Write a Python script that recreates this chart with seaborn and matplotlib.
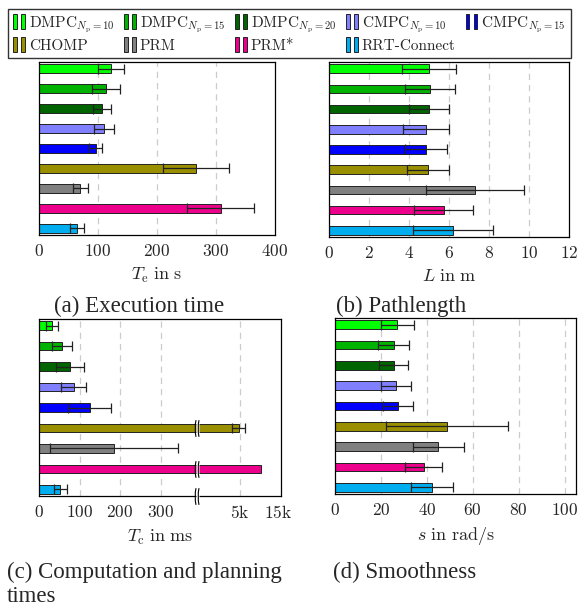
import numpy as np
import pandas as pd
import seaborn as sns
import matplotlib.pyplot as plt
from matplotlib.patches import Patch
from matplotlib.path import Path
from matplotlib.legend_handler import HandlerTuple

methods = ["DMPC10", "DMPC15", "DMPC20", "CMPC10", "CMPC15", "CHOMP", "PRM", "PRM*", "RRT-Connect"]
legend_labels = [r"DMPC$_{N_\mathrm{p}=10}$", r"DMPC$_{N_\mathrm{p}=15}$", r"DMPC$_{N_\mathrm{p}=20}$",
                 r"CMPC$_{N_\mathrm{p}=10}$", r"CMPC$_{N_\mathrm{p}=15}$", "CHOMP", "PRM", "PRM*", "RRT-Connect"]
colors = ["#00ff00", "#00b300", "#006400", "#8080ff", "#0000ff", "#9a8f00", "#808080", "#ec008c", "#00aeef"]

# execution time in s
te_mean = [122, 113, 107, 110, 96, 266, 70, 308, 65]
te_std = [22, 24, 15, 17, 11, 56, 13, 57, 12]
# path length in m
len_mean = [5.0, 5.03, 5.0, 4.83, 4.85, 4.93, 7.3, 5.73, 6.18]
len_std = [1.37, 1.25, 1.0, 1.15, 1.05, 1.05, 2.47, 1.47, 2.0]
# computation / planning time in ms
tc_mean = [32, 57, 76, 86, 125, 4850, 184, 9100, 52]
tc_std = [15, 25, 35, 31, 53, 850, 158, np.nan, 16]
# smoothness in rad/s
s_mean = [27.2, 25.5, 25.6, 26.7, 27.6, 48.7, 45, 38.7, 42.2]
s_std = [7.2, 6.7, 6.3, 6.5, 6.5, 26.5, 11.1, 8.0, 9.0]

sns.set_style("white")
plt.rcParams["font.family"] = "serif"
plt.rcParams["font.serif"] = ["cmr10", "DejaVu Serif"]
plt.rcParams["mathtext.fontset"] = "cm"
plt.rcParams["axes.formatter.use_mathtext"] = True

W, H = 579, 613
fig = plt.figure(figsize=(W / 100, H / 100), dpi=100)
pal = dict(zip(methods, colors))


def px_axes(l, t, r, b):
    return fig.add_axes([l / W, 1 - b / H, (r - l) / W, (b - t) / H])


# broken axis for panel c: linear up to 390 ms, log above
BRK, X0, DEC = 390.0, 1446.0, 196.0


def fwd(x):
    x = np.asarray(x, dtype=float)
    return np.where(x <= BRK, x, BRK + DEC * np.log10(np.maximum(x, X0) / X0))


def inv(p):
    p = np.asarray(p, dtype=float)
    return np.where(p <= BRK, p, X0 * 10 ** ((p - BRK) / DEC))


def panel(ax, mean, std, xlim, ticks, ticklabels, grid, xlabel, scale=None):
    df = pd.DataFrame({"method": methods, "value": mean})
    sns.barplot(data=df, x="value", y="method", hue="method", palette=pal, order=methods,
                orient="h", width=0.42, saturation=1, edgecolor="#222222", linewidth=0.7,
                errorbar=None, legend=False, ax=ax)
    std = np.asarray(std, dtype=float)
    ok = ~np.isnan(std)
    ax.errorbar(np.asarray(mean)[ok], np.arange(len(methods))[ok], xerr=std[ok], fmt="none",
                ecolor="#222222", elinewidth=0.9, capsize=3.5, capthick=0.9, zorder=5)
    if scale is not None:
        ax.set_xscale("function", functions=scale)
    for g in grid:
        ax.axvline(g, color="#cccccc", lw=0.9, ls=(0, (5, 4)), zorder=0)
    ax.set_xlim(*xlim)
    ax.set_ylim(8.33, -0.33)
    ax.set_xticks(ticks)
    ax.set_xticklabels(ticklabels)
    ax.set_yticks([])
    ax.set_ylabel("")
    ax.set_xlabel(xlabel, fontsize=13, labelpad=5)
    ax.tick_params(axis="x", length=0, labelsize=12.5, pad=6)
    for s in ax.spines.values():
        s.set_color("black")
        s.set_linewidth(0.9)


ax_a = px_axes(39, 62, 275, 235)
panel(ax_a, te_mean, te_std, (0, 400), [0, 100, 200, 300, 400],
      ["$0$", "$100$", "$200$", "$300$", "$400$"], [100, 200, 300],
      r"$T_\mathrm{e}\ \mathrm{in\ s}$")

ax_b = px_axes(329, 62, 569, 237)
panel(ax_b, len_mean, len_std, (0, 12), [0, 2, 4, 6, 8, 10, 12],
      ["$%d$" % v for v in [0, 2, 4, 6, 8, 10, 12]], [2, 4, 6, 8, 10],
      r"$L\ \mathrm{in\ m}$")

ax_c = px_axes(39, 319, 281, 496)
panel(ax_c, tc_mean, tc_std, (0, 16400), [0, 100, 200, 300, 5000, 15000],
      ["$0$", "$100$", "$200$", "$300$", r"$5\mathrm{k}$", r"$15\mathrm{k}$"],
      [100, 200, 300, 5000], r"$T_\mathrm{c}\ \mathrm{in\ ms}$", scale=(fwd, inv))

# axis break marks
gap = Path([(-0.18, -1), (0.18, -1), (0.18, 1), (-0.18, 1), (-0.18, -1)])
arcs = Path([(-0.18, -1), (-0.4, 0), (-0.18, 1), (0.18, -1), (-0.04, 0), (0.18, 1)],
            [Path.MOVETO, Path.CURVE3, Path.CURVE3, Path.MOVETO, Path.CURVE3, Path.CURVE3])
brk_x = 900
for yy, tr in [(5, ax_c.transData), (7, ax_c.transData), (0, ax_c.get_xaxis_transform())]:
    ax_c.plot([brk_x], [yy], marker=gap, ms=12, mfc="white", mec="none", transform=tr,
              clip_on=False, zorder=6)
    ax_c.plot([brk_x], [yy], marker=arcs, ms=12, mfc="none", mec="black", mew=0.8,
              transform=tr, clip_on=False, zorder=7)

ax_d = px_axes(335, 318, 576, 494)
panel(ax_d, s_mean, s_std, (0, 105), [0, 20, 40, 60, 80, 100],
      ["$%d$" % v for v in [0, 20, 40, 60, 80, 100]], [20, 40, 60, 80, 100],
      r"$s\ \mathrm{in\ rad/s}$")

# legend: two small bars per entry, filled row by row
handles = [(Patch(facecolor=c, edgecolor="#222222", linewidth=0.7),
            Patch(facecolor=c, edgecolor="#222222", linewidth=0.7)) for c in colors]
order = [0, 5, 1, 6, 2, 7, 3, 8, 4]
fig.legend([handles[i] for i in order], [legend_labels[i] for i in order],
           handler_map={tuple: HandlerTuple(ndivide=None, pad=0.3)},
           loc="upper left", ncol=5, mode="expand",
           bbox_to_anchor=(8 / W, 1 - 56 / H, 563 / W, 47 / H), borderaxespad=0,
           frameon=True, fancybox=False, edgecolor="black", fontsize=11,
           handlelength=0.75, handleheight=1.1, handletextpad=0.25, labelspacing=0.2,
           columnspacing=0.3, borderpad=0.35)

cap = dict(family="Liberation Serif", fontsize=16.5, va="center")
fig.text(139 / W, 1 - 306 / H, "(a) Execution time", ha="center", **cap)
fig.text(401 / W, 1 - 306 / H, "(b) Pathlength", ha="center", **cap)
fig.text(7 / W, 1 - 572 / H, "(c) Computation and planning", ha="left", **cap)
fig.text(7 / W, 1 - 597 / H, "times", ha="left", **cap)
fig.text(333 / W, 1 - 572 / H, "(d) Smoothness", ha="left", **cap)

fig.savefig("out.png", dpi=100)
